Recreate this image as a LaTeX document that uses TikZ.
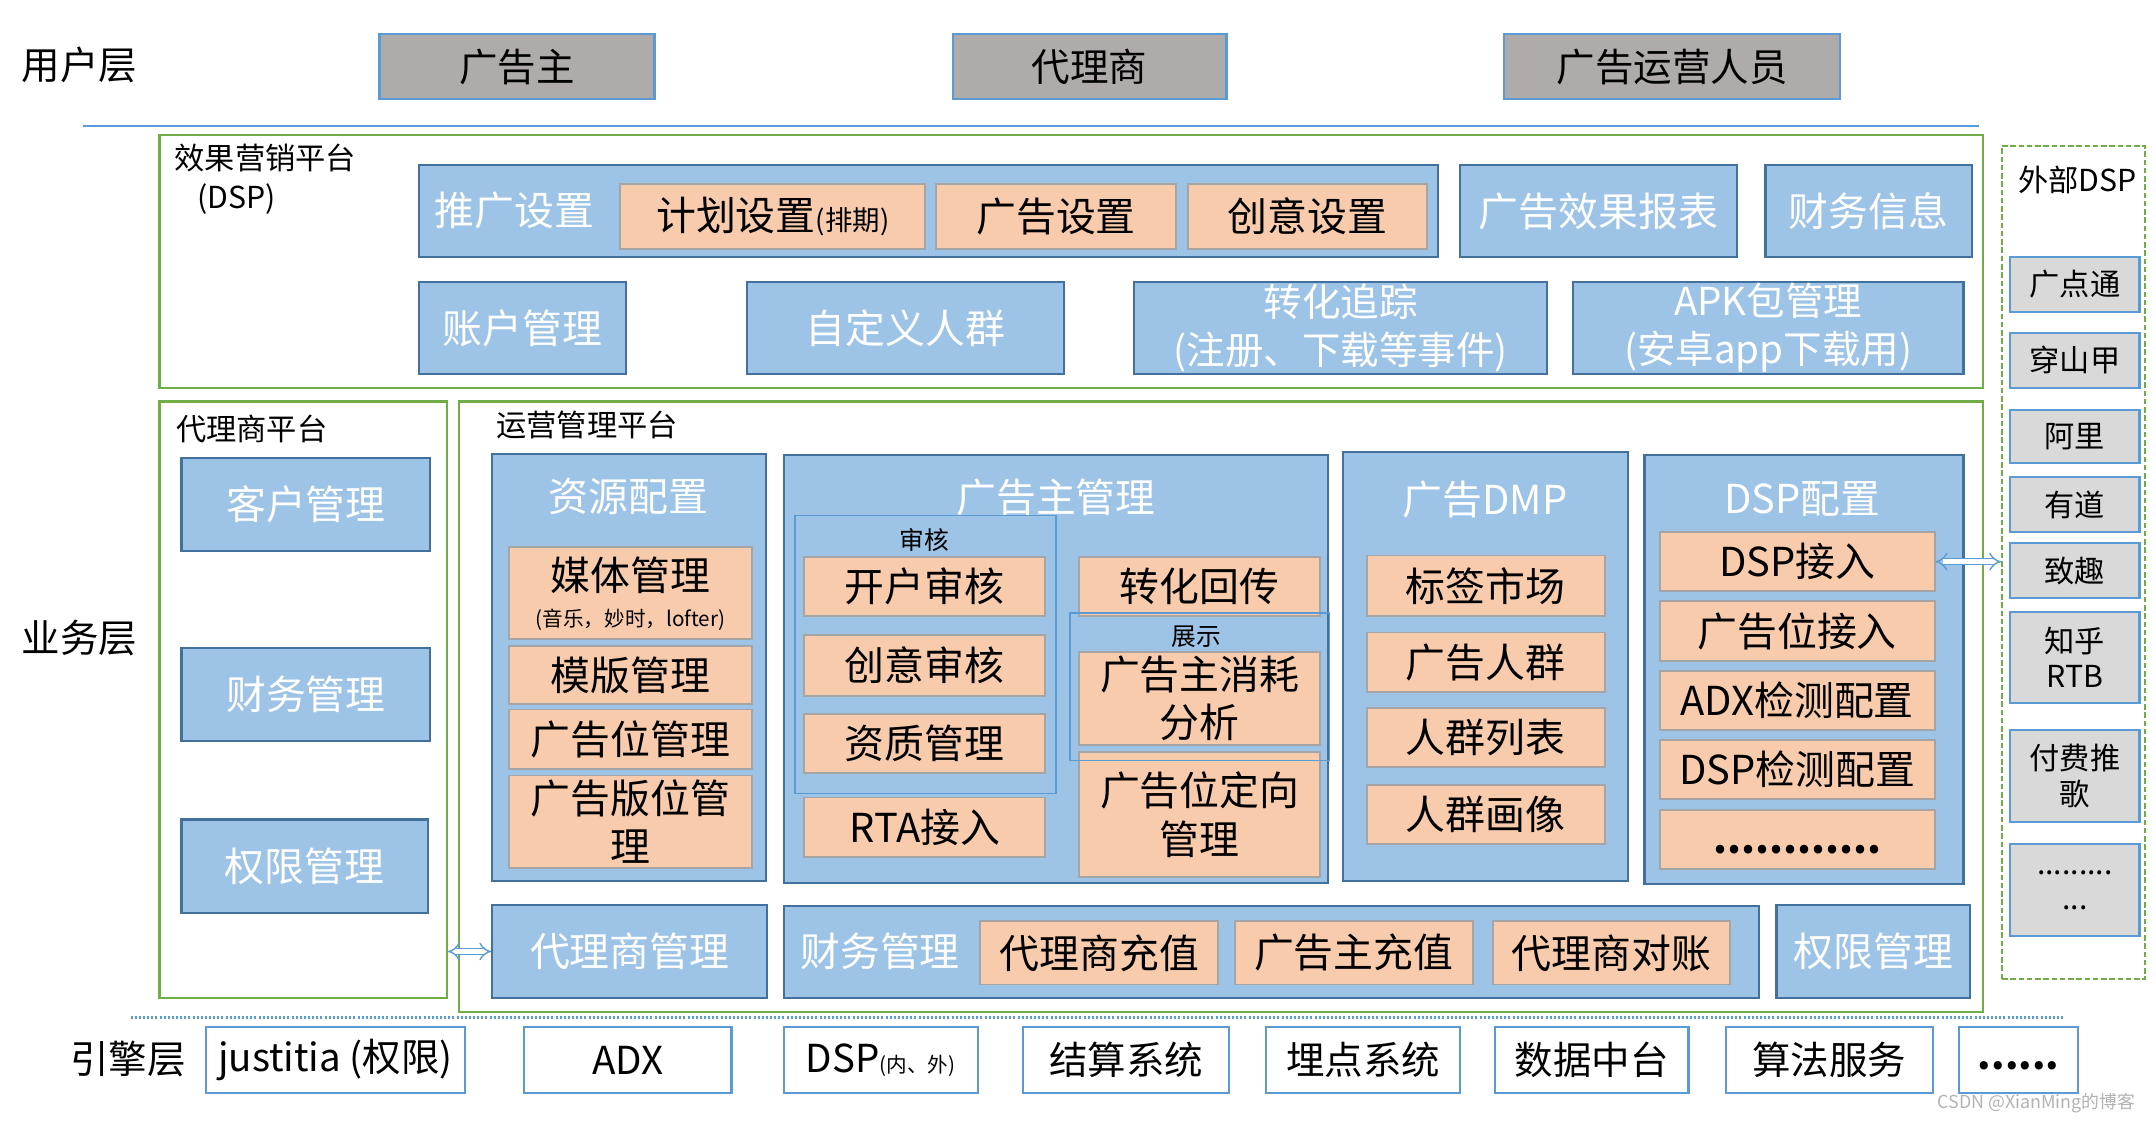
\documentclass[tikz,border=0pt]{standalone}
\usepackage{fontspec}
\setmainfont{Noto Sans CJK SC}
\usetikzlibrary{positioning, arrows.meta}
\definecolor{adgray}{RGB}{175,171,171}
\definecolor{adline}{RGB}{91,155,213}
\definecolor{adblue}{RGB}{157,195,230}
\definecolor{adedge}{RGB}{65,113,156}
\definecolor{adorange}{RGB}{248,203,173}
\definecolor{adorangeedge}{RGB}{165,165,165}
\definecolor{adgreen}{RGB}{112,173,71}
\definecolor{adlight}{RGB}{217,217,217}
\tikzset{
    userbox/.style={rectangle, draw=adline, fill=adgray, line width=1.5pt, inner sep=0pt, font=\fontsize{28}{34}\selectfont},
    bluebox/.style={rectangle, draw=adedge, fill=adblue, line width=1.5pt, inner sep=0pt, align=center, text=white, font=\fontsize{29}{35}\selectfont},
    itembox/.style={rectangle, draw=adorangeedge, fill=adorange, line width=1.3pt, inner sep=0pt, align=center, font=\fontsize{29}{35}\selectfont},
    platframe/.style={rectangle, draw=adgreen, line width=1.5pt, inner sep=0pt},
    extframe/.style={rectangle, draw=adgreen, line width=1.3pt, dash pattern=on 4pt off 2pt, inner sep=0pt},
    extbox/.style={rectangle, draw=adline, fill=adlight, line width=1.5pt, inner sep=0pt, align=center, font=\fontsize{22}{26}\selectfont},
    enginebox/.style={rectangle, draw=adline, fill=white, line width=1.5pt, inner sep=0pt, font=\fontsize{28}{34}\selectfont},
    groupbox/.style={rectangle, draw=adline, line width=1.2pt, inner sep=0pt},
    layerlbl/.style={font=\fontsize{28}{34}\selectfont},
    platlbl/.style={font=\fontsize{22}{26}\selectfont},
    grouplbl/.style={font=\fontsize{18}{22}\selectfont},
    coltitle/.style={text=white, font=\fontsize{29}{35}\selectfont},
    dblarr/.style={{Implies[scale=2]}-{Implies[scale=2]}, double=white, double distance=3.5pt, draw=adline, line width=1pt}
}

\begin{document}
\begin{tikzpicture}[x=1pt, y=-1pt]
    \useasboundingbox (0,0) rectangle (1568,816);

    % User layer
    \node[layerlbl] (userlbl) at (58,47) {用户层};
    \node[userbox, minimum width=200pt, minimum height=47pt] (uadv) at (376,48.5) {广告主};
    \node[userbox, minimum width=199pt, minimum height=47pt] (uagent) at (792.5,48.5) {代理商};
    \node[userbox, minimum width=244pt, minimum height=47pt] (uops) at (1216,48.5) {广告运营人员};
    \draw[adline, line width=1.5pt] (60,91.5) -- (1439,91.5);

    % DSP platform
    \node[platframe, minimum width=1326pt, minimum height=184pt] (dspplat) at (779,190) {};
    \node[platlbl] (dspplatlbl) at (193,115) {效果营销平台};
    \node[platlbl] (dspplatsub) at (172,145) {(DSP)};
    \node[bluebox, minimum width=741pt, minimum height=67pt] (promo) at (675.5,153.5) {};
    \node[coltitle] (promolbl) at (374,153) {推广设置};
    \node[itembox, minimum width=222pt, minimum height=47pt] (plan) at (562,157.5) {计划设置{\fontsize{20}{24}\selectfont(排期)}};
    \node[itembox, minimum width=174pt, minimum height=47pt] (adset) at (768,157.5) {广告设置};
    \node[itembox, minimum width=174pt, minimum height=47pt] (creative) at (951,157.5) {创意设置};
    \node[bluebox, minimum width=201pt, minimum height=67pt] (report) at (1162.5,153.5) {广告效果报表};
    \node[bluebox, minimum width=150pt, minimum height=67pt] (fininfo) at (1359,153.5) {财务信息};
    \node[bluebox, minimum width=150pt, minimum height=67pt] (account) at (380,238.5) {账户管理};
    \node[bluebox, minimum width=231pt, minimum height=67pt] (crowd) at (658.5,238.5) {自定义人群};
    \node[bluebox, minimum width=300pt, minimum height=67pt, font=\fontsize{28}{35}\selectfont] (convtrack) at (975,238.5) {转化追踪\\(注册、下载等事件)};
    \node[bluebox, minimum width=284pt, minimum height=67pt, font=\fontsize{28}{35}\selectfont] (apk) at (1286,238.5) {APK包管理\\(安卓app下载用)};

    % External DSP
    \node[extframe, minimum width=104pt, minimum height=606pt] (extdsp) at (1508,409) {};
    \node[platlbl] (extlbl) at (1511,131) {外部DSP};
    \node[extbox, minimum width=94pt, minimum height=40pt] (gdt) at (1509,207) {广点通};
    \node[extbox, minimum width=94pt, minimum height=40pt] (csj) at (1509,262) {穿山甲};
    \node[extbox, minimum width=94pt, minimum height=39pt] (ali) at (1509,317.5) {阿里};
    \node[extbox, minimum width=94pt, minimum height=40pt] (youdao) at (1509,367) {有道};
    \node[extbox, minimum width=94pt, minimum height=40pt] (zhiqu) at (1509,415) {致趣};
    \node[extbox, minimum width=94pt, minimum height=66pt] (zhihu) at (1509,478) {知乎\\RTB};
    \node[extbox, minimum width=94pt, minimum height=67pt] (paid) at (1509,564.5) {付费推\\歌};
    \node[extbox, minimum width=94pt, minimum height=67pt] (extmore) at (1509,647.5) {.........\\...};

    % Business layer
    \node[layerlbl] (bizlbl) at (58,464) {业务层};

    % Agent platform
    \node[platframe, minimum width=209pt, minimum height=434pt] (agentplat) at (220.5,509) {};
    \node[platlbl] (agentplatlbl) at (183,312) {代理商平台};
    \node[bluebox, minimum width=181pt, minimum height=68pt] (cust) at (222.5,367) {客户管理};
    \node[bluebox, minimum width=181pt, minimum height=68pt] (afin) at (222.5,505) {财务管理};
    \node[bluebox, minimum width=179pt, minimum height=68pt] (aperm) at (221.5,630) {权限管理};

    % Operation platform
    \node[platframe, minimum width=1108pt, minimum height=444pt] (opsplat) at (888,514) {};
    \node[platlbl] (opsplatlbl) at (427,309) {运营管理平台};

    % Resource config
    \node[bluebox, minimum width=199pt, minimum height=311pt] (res) at (457.5,485.5) {};
    \node[coltitle] (reslbl) at (457,361) {资源配置};
    \node[itembox, minimum width=177pt, minimum height=67pt] (media) at (458.5,431.5) {媒体管理\\[-9pt]{\fontsize{15}{18}\selectfont(音乐，妙时，lofter)}};
    \node[itembox, minimum width=177pt, minimum height=42pt] (tmpl) at (458.5,491) {模版管理};
    \node[itembox, minimum width=177pt, minimum height=43pt] (slot) at (458.5,537.5) {广告位管理};
    \node[itembox, minimum width=177pt, minimum height=67pt] (layout) at (458.5,597.5) {广告版位管\\理};

    % Advertiser management
    \node[bluebox, minimum width=396pt, minimum height=311pt] (advm) at (768,486.5) {};
    \node[coltitle] (advmlbl) at (768,362) {广告主管理};
    \node[itembox, minimum width=175pt, minimum height=43pt] (openaudit) at (672.5,426.5) {开户审核};
    \node[itembox, minimum width=175pt, minimum height=44pt] (creaudit) at (672.5,484) {创意审核};
    \node[itembox, minimum width=175pt, minimum height=43pt] (qual) at (672.5,540.5) {资质管理};
    \node[itembox, minimum width=175pt, minimum height=43pt] (rta) at (672.5,601.5) {RTA接入};
    \node[itembox, minimum width=175pt, minimum height=43pt] (convback) at (872.5,426.5) {转化回传};
    \node[itembox, minimum width=175pt, minimum height=68pt] (consume) at (872.5,508) {广告主消耗\\分析};
    \node[itembox, minimum width=175pt, minimum height=91pt] (slottarget) at (872.5,592.5) {广告位定向\\管理};
    \node[groupbox, minimum width=190pt, minimum height=202pt] (audit) at (673,476) {};
    \node[grouplbl] (auditlbl) at (672,393) {审核};
    \node[groupbox, minimum width=189pt, minimum height=107pt] (show) at (872.5,499.5) {};
    \node[grouplbl] (showlbl) at (870,463) {展示};

    % Ad DMP
    \node[bluebox, minimum width=207pt, minimum height=312pt] (dmp) at (1080.5,485) {};
    \node[coltitle] (dmplbl) at (1080,363) {广告DMP};
    \node[itembox, minimum width=173pt, minimum height=44pt] (tagmkt) at (1080.5,426) {标签市场};
    \node[itembox, minimum width=173pt, minimum height=43pt] (adcrowd) at (1080.5,481.5) {广告人群};
    \node[itembox, minimum width=173pt, minimum height=43pt] (crowdlist) at (1080.5,536.5) {人群列表};
    \node[itembox, minimum width=173pt, minimum height=43pt] (portrait) at (1080.5,592.5) {人群画像};

    % DSP config
    \node[bluebox, minimum width=232pt, minimum height=312pt] (dspcfg) at (1312,487) {};
    \node[coltitle] (dspcfglbl) at (1311,363) {DSP配置};
    \node[itembox, minimum width=200pt, minimum height=43pt] (dspin) at (1307,408.5) {DSP接入};
    \node[itembox, minimum width=200pt, minimum height=44pt] (slotin) at (1307,459) {广告位接入};
    \node[itembox, minimum width=200pt, minimum height=43pt] (adxchk) at (1307,509.5) {ADX检测配置};
    \node[itembox, minimum width=200pt, minimum height=43pt] (dspchk) at (1307,559.5) {DSP检测配置};
    \node[itembox, minimum width=200pt, minimum height=43pt] (dspmore) at (1307,610.5) {\raisebox{-10pt}[0pt][0pt]{\bfseries............}};

    % Bottom row
    \node[bluebox, minimum width=200pt, minimum height=68pt] (agentm) at (458,692) {代理商管理};
    \node[bluebox, minimum width=709pt, minimum height=67pt] (finm) at (924.5,692.5) {};
    \node[coltitle] (finmlbl) at (640,692) {财务管理};
    \node[itembox, minimum width=173pt, minimum height=46pt] (agentchg) at (799.5,693) {代理商充值};
    \node[itembox, minimum width=173pt, minimum height=46pt] (advchg) at (984.5,693) {广告主充值};
    \node[itembox, minimum width=172pt, minimum height=46pt] (agentbill) at (1172,693) {代理商对账};
    \node[bluebox, minimum width=141pt, minimum height=68pt] (permm) at (1362.5,692) {权限管理};

    % Arrows
    \draw[dblarr] (agentplat.east |- agentm.west) -- (agentm.west);
    \draw[dblarr] (dspin.east) -- (extdsp.west |- dspin.east);

    % Engine layer
    \draw[adline, line width=1.5pt, dash pattern=on 1.5pt off 1.5pt] (95,740) -- (1502,740);
    \node[layerlbl] (enginelbl) at (93,770) {引擎层};
    \node[enginebox, minimum width=188pt, minimum height=48pt] (justitia) at (244,771) {justitia (权限)};
    \node[enginebox, minimum width=151pt, minimum height=48pt] (adx) at (456.5,771) {ADX};
    \node[enginebox, minimum width=141pt, minimum height=48pt] (dsp) at (640.5,771) {DSP{\fontsize{15}{18}\selectfont(内、外)}};
    \node[enginebox, minimum width=150pt, minimum height=48pt] (settle) at (819,771) {结算系统};
    \node[enginebox, minimum width=141pt, minimum height=48pt] (tracking) at (991.5,771) {埋点系统};
    \node[enginebox, minimum width=141pt, minimum height=48pt] (datamid) at (1157.5,771) {数据中台};
    \node[enginebox, minimum width=151pt, minimum height=48pt] (algo) at (1330.5,771) {算法服务};
    \node[enginebox, minimum width=86pt, minimum height=48pt] (enginemore) at (1468,771) {\raisebox{-7pt}[0pt][0pt]{\bfseries......}};

    \node[text=gray!60, font=\fontsize{13}{15}\selectfont] (mark) at (1481,802) {CSDN @XianMing的博客};
\end{tikzpicture}
\end{document}
